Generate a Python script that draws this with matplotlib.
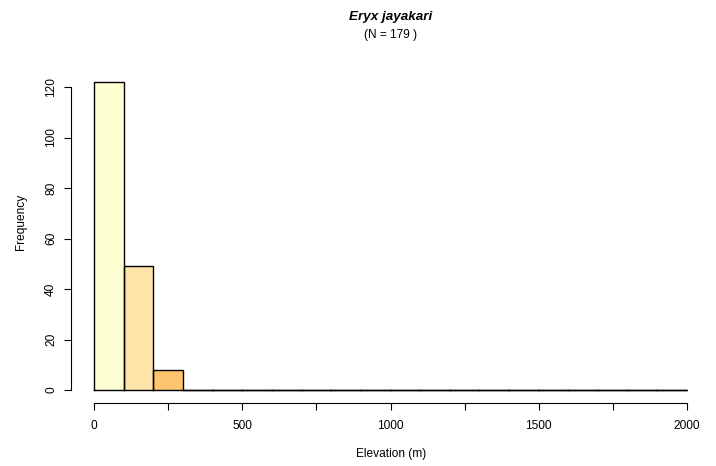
import matplotlib
matplotlib.use("Agg")
import matplotlib.pyplot as plt
import numpy as np

plt.rcParams['font.family'] = ['Liberation Sans', 'DejaVu Sans']

bin_edges = list(range(0, 2001, 100))
counts = [122, 49, 8] + [0] * 17
bar_colors = ['#FFFFD4', '#FEE4A8', '#FEC46E'] + ['#FEB24C'] * 17
x_ticks = list(range(0, 2001, 250))
x_labels = ['0', '', '500', '', '1000', '', '1500', '', '2000']
y_ticks = [0, 20, 40, 60, 80, 100, 120]

W, H = 716, 466
fig = plt.figure(figsize=(W / 100, H / 100), dpi=100)
ax = fig.add_axes([94 / W, (H - 390) / H, 593 / W, 308 / H])

lefts = bin_edges[:-1]
rights = bin_edges[1:]
widths = np.diff(bin_edges)
ax.bar(lefts, counts, width=widths, align='edge', color=bar_colors,
       edgecolor='none', linewidth=0)
for l, r, h in zip(lefts, rights, counts):
    ax.plot([l, l, r, r, l], [0, h, h, 0, 0], color='black', linewidth=1.0,
            solid_joinstyle='miter', clip_on=False)

ax.set_xlim(0, 2000)
ax.set_ylim(0, 122)

for s in ['top', 'right']:
    ax.spines[s].set_visible(False)
ax.spines['bottom'].set_position(('outward', 13 * 0.72))
ax.spines['left'].set_position(('outward', 23 * 0.72))
ax.spines['bottom'].set_bounds(0, 2000)
ax.spines['left'].set_bounds(0, 120)
for s in ['bottom', 'left']:
    ax.spines[s].set_linewidth(0.8)

fs = 8.6
ax.set_xticks(x_ticks)
ax.set_xticklabels(x_labels, fontsize=fs)
ax.set_yticks(y_ticks)
ax.set_yticklabels([str(v) for v in y_ticks], fontsize=fs, rotation=90, va='center')
ax.tick_params(axis='x', length=5, width=0.8, pad=7)
ax.tick_params(axis='y', length=5, width=0.8, pad=5)

fig.text(391 / W, 1 - 17 / H, 'Eryx jayakari', ha='center', va='center',
         fontsize=9.7, fontweight='bold', fontstyle='italic')
fig.text(391 / W, 1 - 35 / H, '(N = 179 )', ha='center', va='center', fontsize=fs)
fig.text(391 / W, 1 - 454 / H, 'Elevation (m)', ha='center', va='center', fontsize=fs)
fig.text(21 / W, 1 - 222 / H, 'Frequency', ha='center', va='center', fontsize=fs,
         rotation=90)

fig.savefig('out.png', dpi=100)
